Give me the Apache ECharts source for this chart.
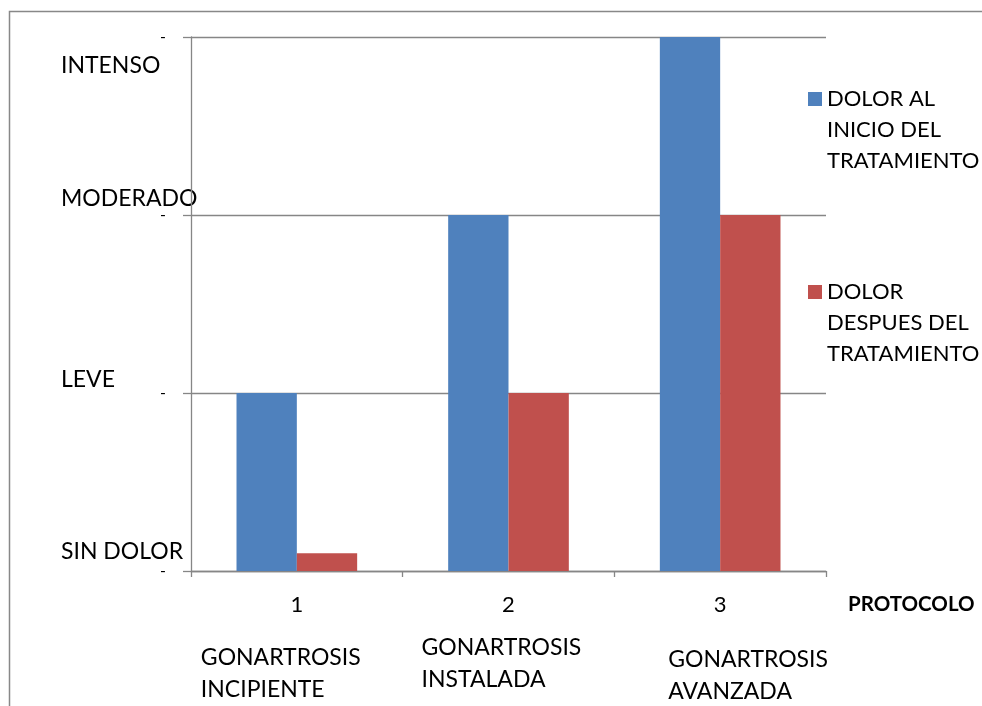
<!DOCTYPE html>
<html><head><meta charset="utf-8">
<script src="https://cdn.jsdelivr.net/npm/echarts@6/dist/echarts.min.js"></script>
<style>html,body{margin:0;padding:0;background:#fff}#c{width:982px;height:706px}</style>
</head><body><div id="c"></div>
<script>
const categories = ['1', '2', '3'];
const stageLabels = ['GONARTROSIS\nINCIPIENTE', 'GONARTROSIS\nINSTALADA', 'GONARTROSIS\nAVANZADA'];
const levelLabels = ['SIN DOLOR', 'LEVE', 'MODERADO', 'INTENSO'];
const levelValues = [0, 1, 2, 3];
const seriesNames = ['DOLOR AL\nINICIO DEL\nTRATAMIENTO', 'DOLOR\nDESPUES DEL\nTRATAMIENTO'];
const dolorInicio = [1, 2, 3];
const dolorDespues = [0.1, 1, 2];
const axisName = 'PROTOCOLO';

const FONT = 'Lato';
const GRAY = '#868686';
const chart = echarts.init(document.getElementById('c'), null, {renderer: 'canvas'});

chart.setOption({
  animation: false,
  backgroundColor: '#fff',
  textStyle: {fontFamily: FONT, color: '#000'},
  grid: {left: 191, right: 156, top: 37, bottom: 135},
  legend: {
    orient: 'vertical', left: 808, top: 21.5, padding: 0,
    itemWidth: 14, itemHeight: 14, itemGap: 38, icon: 'rect',
    formatter: function (name) { return '\n\n' + name; },
    textStyle: {fontFamily: FONT, fontSize: 22, color: '#000', lineHeight: 31},
    data: seriesNames
  },
  xAxis: {
    type: 'category', data: categories,
    axisLine: {lineStyle: {color: GRAY, width: 1.3}},
    axisTick: {show: true, length: 6, lineStyle: {color: GRAY, width: 1.3}},
    axisLabel: {margin: 23, fontSize: 22, color: '#000', fontFamily: FONT},
    name: axisName, nameLocation: 'end', nameGap: 22,
    nameTextStyle: {fontFamily: FONT, fontWeight: 'bold', fontSize: 20.5, color: '#000', verticalAlign: 'top', padding: [23, 0, 0, 0]}
  },
  yAxis: {
    type: 'value', min: 0, max: 3, interval: 1,
    axisLine: {show: true, lineStyle: {color: GRAY, width: 1.3}},
    axisTick: {show: true, length: 8, lineStyle: {color: GRAY, width: 1.3}},
    splitLine: {show: true, lineStyle: {color: GRAY, width: 1.3}},
    axisLabel: {formatter: function () { return '-'; }, margin: 25, fontSize: 16, color: '#000', fontFamily: FONT}
  },
  series: [
    {name: seriesNames[0], type: 'bar', data: dolorInicio, barGap: '0%', barCategoryGap: '43%',
     itemStyle: {color: '#4F81BD'}},
    {name: seriesNames[1], type: 'bar', data: dolorDespues, barGap: '0%', barCategoryGap: '43%',
     itemStyle: {color: '#C0504D'}}
  ]
});

// Annotation texts positioned with the chart's own scales
const levelOffsets = [-19, -13, -16, 29];
const stageOffsets = [[-96, 658], [-87, 648], [-52, 660]];
const graphics = [{
  type: 'rect', silent: true, z: -1,
  shape: {x: 9.5, y: 11.5, width: 1200, height: 1000},
  style: {fill: 'none', stroke: '#888', lineWidth: 1.5}
}];
levelLabels.forEach(function (t, i) {
  const y = chart.convertToPixel({yAxisIndex: 0}, levelValues[i]) + levelOffsets[i];
  graphics.push({type: 'text', silent: true, x: 61, y: y,
    style: {text: t, font: '23px ' + FONT, fill: '#000', verticalAlign: 'middle', align: 'left'}});
});
stageLabels.forEach(function (t, i) {
  const x = chart.convertToPixel({xAxisIndex: 0}, categories[i]) + stageOffsets[i][0];
  graphics.push({type: 'text', silent: true, x: x, y: stageOffsets[i][1] - 16,
    style: {text: t, font: '23px ' + FONT, lineHeight: 32, fill: '#000', verticalAlign: 'top', align: 'left'}});
});
chart.setOption({graphic: graphics});
</script>
</body></html>
